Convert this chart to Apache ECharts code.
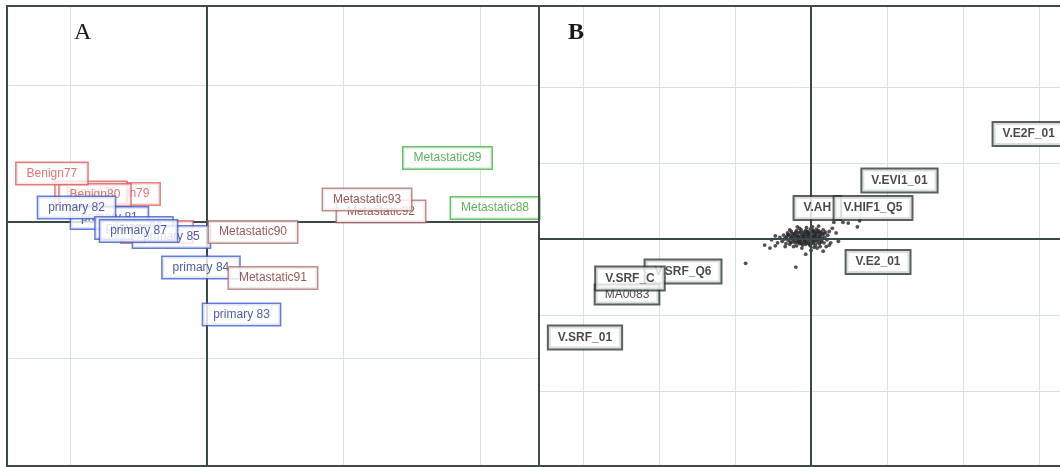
<!DOCTYPE html>
<html><head><meta charset="utf-8">
<script src="https://cdn.jsdelivr.net/npm/echarts@6/dist/echarts.min.js"></script>
<style>html,body{margin:0;padding:0;background:#fff}#c{width:1060px;height:467px}</style>
</head><body><div id="c"></div>
<script>
// ---------- Panel A: sample scores ----------
const aNames  = ['Benign76','Benign79','Benign78','Benign80','Benign77','primary 81','primary 82','primary 86','primary 85','primary 87','primary 84','primary 83','Metastatic90','Metastatic91','Metastatic92','Metastatic93','Metastatic89','Metastatic88'];
const aGroups = ['benign','benign','benign','benign','benign','primary','primary','primary','primary','primary','primary','primary','meta','meta','meta','meta','metaG','metaG'];
const aX = [-0.364,-0.605,-0.847,-0.818,-1.133,-0.712,-0.953,-0.532,-0.258,-0.499,-0.042,0.255,0.339,0.485,1.276,1.174,1.763,2.111];
const aY = [-0.073,0.205,0.216,0.198,0.355,0.029,0.106,-0.044,-0.110,-0.066,-0.333,-0.678,-0.073,-0.410,0.077,0.165,0.469,0.103];
const aGridX = [-1, 1, 2];
const aGridY = [-1, 1];

// ---------- Panel B: motif scores ----------
const bNames = ['V.E2F_01','V.EVI1_01','V.AH','V.HIF1_Q5','V.E2_01','V.SRF_Q6','MA0083','V.SRF_C','V.SRF_01'];
const bX = [2.864,1.164,0.083,0.816,0.882,-1.684,-2.421,-2.382,-2.974];
const bY = [1.382,0.770,0.408,0.408,-0.303,-0.428,-0.730,-0.520,-1.296];
const bGridX = [-3, -2, -1, 1, 2, 3];
const bGridY = [-2, -1, 1, 2];
const cloudPts = [
[-0.41,0.02],[-0.38,-0.03],[-0.36,0.05],[-0.35,0.00],[-0.33,-0.06],[-0.32,0.03],[-0.31,0.08],[-0.30,-0.02],[-0.29,0.05],[-0.28,-0.07],
[-0.27,0.01],[-0.26,0.10],[-0.25,-0.04],[-0.24,0.04],[-0.23,0.00],[-0.22,0.07],[-0.21,-0.05],[-0.20,0.02],[-0.19,0.11],[-0.19,-0.09],
[-0.18,0.05],[-0.17,-0.02],[-0.16,0.08],[-0.16,0.00],[-0.15,-0.06],[-0.14,0.03],[-0.13,0.12],[-0.13,-0.03],[-0.12,0.06],[-0.11,-0.08],
[-0.11,0.01],[-0.10,0.09],[-0.09,-0.04],[-0.09,0.04],[-0.08,0.00],[-0.07,0.11],[-0.07,-0.07],[-0.06,0.06],[-0.05,-0.02],[-0.05,0.02],
[-0.04,0.09],[-0.03,-0.05],[-0.03,0.05],[-0.02,0.00],[-0.01,0.13],[-0.01,-0.09],[0.00,0.04],[0.01,-0.03],[0.01,0.08],[0.02,0.01],
[0.03,-0.06],[0.03,0.11],[0.04,0.05],[0.05,-0.01],[0.05,0.09],[0.06,-0.08],[0.07,0.03],[0.07,0.13],[0.08,-0.04],[0.09,0.07],
[0.10,0.00],[0.10,0.11],[0.11,-0.06],[0.12,0.04],[0.13,0.09],[0.14,-0.02],[0.15,0.06],[0.16,0.12],[0.17,-0.05],[0.18,0.02],
[0.19,0.09],[0.21,-0.01],[0.22,0.05],[0.24,0.10],[0.20,-0.10],[-0.23,-0.10],[-0.28,0.12],[-0.12,-0.12],[0.04,-0.11],[0.12,-0.10],
[-0.44,-0.05],[-0.47,0.04],[-0.52,-0.01],[-0.61,-0.08],[-0.47,-0.09],[-0.54,-0.12],[-0.86,-0.32],[-0.20,-0.37],[-0.07,-0.20],[0.08,-0.12],
[0.16,-0.16],[0.24,-0.08],[0.33,0.08],[0.30,0.22],[0.42,0.22],[0.49,0.21],[0.61,0.16],[0.64,0.24],[0.28,0.14],[0.36,-0.03],
[-0.06,0.15],[0.02,0.16],[0.10,0.17],[-0.15,0.14],[-0.34,-0.10],[0.26,-0.05],[0.00,-0.15],[-0.18,0.16],
[-0.30,0.06],[-0.27,-0.04],[-0.25,0.07],[-0.22,-0.02],[-0.20,0.09],[-0.18,-0.04],[-0.17,0.03],[-0.14,-0.01],[-0.14,0.09],[-0.12,-0.06],
[-0.10,0.04],[-0.09,0.00],[-0.08,0.07],[-0.06,-0.05],[-0.05,0.10],[-0.04,0.01],[-0.02,-0.07],[-0.02,0.06],[0.00,0.00],[0.00,-0.05],
[0.02,0.10],[0.03,0.03],[0.04,-0.03],[0.06,0.07],[0.06,0.01],[0.08,0.10],[0.09,-0.01],[0.11,0.03],[0.12,0.08],[0.13,-0.04],
[0.15,0.01],[0.17,0.07],[-0.33,0.01],[-0.26,0.02],[-0.21,0.05],[-0.16,-0.04],[-0.08,-0.02],[-0.03,0.08],[0.01,0.12],[0.05,0.05]
];

// ---------- styles ----------
const groupStyle = {
  benign:  {color:'#d9544c', borderColor:'#d8605a'},
  primary: {color:'#23358f', borderColor:'#3f5ccc'},
  meta:    {color:'#7e3030', borderColor:'#ad7373'},
  metaG:   {color:'#3a9e30', borderColor:'#47b245'}
};
const GRID_C = '#d7e1e8', AXIS_C = '#3c494b';

function gridLines(xs, ys) {
  return {
    silent: true, symbol: ['none','none'], label: {show:false},
    lineStyle: {color: GRID_C, width: 1, type: 'solid'},
    data: xs.map(v => ({xAxis: v})).concat(ys.map(v => ({yAxis: v})))
  };
}
function zeroLines() {
  return {
    silent: true, symbol: ['none','none'], label: {show:false},
    lineStyle: {color: AXIS_C, width: 2, type: 'solid'},
    data: [{xAxis: 0}, {yAxis: 0}]
  };
}

const chart = echarts.init(document.getElementById('c'), null, {renderer:'canvas'});
chart.setOption({
  animation: false,
  backgroundColor: '#ffffff',
  title: [
    {text:'A', left:69, top:16, textStyle:{fontFamily:'Liberation Serif', fontSize:24, fontWeight:'normal', color:'#1a1a1a'}},
    {text:'B', left:563, top:16, textStyle:{fontFamily:'Liberation Serif', fontSize:24, fontWeight:'bold', color:'#1a1a1a'}}
  ],
  grid: [
    {left:7, top:6, width:532, height:460, show:false},
    {left:539, top:6, width:521, height:460, show:false}
  ],
  xAxis: [
    {gridIndex:0, type:'value', min:-1.462, max:2.433, show:false},
    {gridIndex:1, type:'value', min:-3.579, max:3.276, show:false}
  ],
  yAxis: [
    {gridIndex:0, type:'value', min:-1.788, max:1.582, show:false},
    {gridIndex:1, type:'value', min:-2.987, max:3.066, show:false}
  ],
  graphic: [
    {type:'rect', z:100, silent:true, shape:{x:7, y:6, width:532, height:460}, style:{fill:null, stroke:'#3f4a4c', lineWidth:2}},
    {type:'rect', z:100, silent:true, shape:{x:539, y:6, width:540, height:460}, style:{fill:null, stroke:'#3f4a4c', lineWidth:2}}
  ],
  series: [
    {type:'line', xAxisIndex:0, yAxisIndex:0, data:[], z:1, markLine: gridLines(aGridX, aGridY)},
    {type:'line', xAxisIndex:0, yAxisIndex:0, data:[], z:2, markLine: zeroLines()},
    {type:'line', xAxisIndex:1, yAxisIndex:1, data:[], z:1, markLine: gridLines(bGridX, bGridY)},
    {type:'line', xAxisIndex:1, yAxisIndex:1, data:[], z:2, markLine: zeroLines()},
    {
      type:'scatter', xAxisIndex:1, yAxisIndex:1, z:3, silent:true,
      symbol:'circle', symbolSize:3.8, itemStyle:{color:'#262626'},
      data: cloudPts
    },
    {
      type:'scatter', xAxisIndex:0, yAxisIndex:0, z:5, silent:true,
      symbolSize:0.1, itemStyle:{color:'rgba(0,0,0,0)'},
      label:{show:true, position:'inside', formatter:'{b}', fontFamily:'Liberation Sans', fontSize:12, lineHeight:13,
             textBorderWidth:0, backgroundColor:'#ffffff', borderWidth:1.5, padding:[4,10]},
      data: aNames.map((n,i) => ({name:n, value:[aX[i], aY[i]], label:groupStyle[aGroups[i]]}))
    },
    {
      type:'scatter', xAxisIndex:1, yAxisIndex:1, z:5, silent:true,
      symbolSize:0.1, itemStyle:{color:'rgba(0,0,0,0)'},
      label:{show:true, position:'inside', formatter:'{b}', fontFamily:'Liberation Sans', fontSize:12, fontWeight:'bold', lineHeight:14,
             textBorderWidth:0, color:'#1c1c1c', backgroundColor:'#ffffff', borderColor:'#2e3839', borderWidth:2, padding:[4,9]},
      data: bNames.map((n,i) => ({name:n, value:[bX[i], bY[i]], label: n === 'MA0083' ? {fontWeight:'normal', padding:[2,9]} : {}}))
    }
  ]
});
</script></body></html>
